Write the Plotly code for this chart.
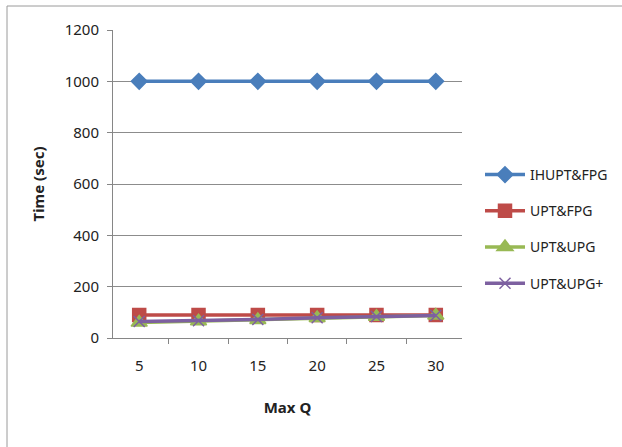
import plotly.graph_objects as go

max_q = ["5", "10", "15", "20", "25", "30"]
ihupt_fpg = [1000, 1000, 1000, 1000, 1000, 1000]
upt_fpg = [90, 90, 90, 90, 90, 90]
upt_upg = [60, 65, 70, 78, 83, 88]
upt_upg_plus = [64, 67, 72, 79, 84, 88]

series = [
    ("IHUPT&FPG", ihupt_fpg, "#4A7EBB", "diamond", 12),
    ("UPT&FPG", upt_fpg, "#BE4B48", "square", 13),
    ("UPT&UPG", upt_upg, "#98B954", "triangle-up", 14),
    ("UPT&UPG+", upt_upg_plus, "#7D60A0", "x-thin", 11),
]

fig = go.Figure()
for name, vals, color, sym, size in series:
    fig.add_trace(go.Scatter(
        x=max_q, y=vals, name=name, legendgroup=name, mode="lines+markers",
        line=dict(color=color, width=3.5),
        marker=dict(symbol=sym, size=size, color=color,
                    line=dict(color=color, width=1.5)),
    ))

font = "Noto Sans"
W, H = 622, 447
L, R, T, B = 113, 160, 30, 109
pw, ph = W - L - R, H - T - B

def px_x(p):
    return (p - L) / pw

def px_y(p):
    return (H - B - p) / ph

fig.update_layout(
    width=W, height=H,
    margin=dict(l=L, r=R, t=T, b=B, autoexpand=False),
    paper_bgcolor="white", plot_bgcolor="white",
    font=dict(family=font, size=15, color="#222"),
    showlegend=True,
    legend=dict(xref="container", yref="container",
                x=480 / W, y=1 - 159 / H, xanchor="left", yanchor="top",
                font=dict(size=14, color="#222"), tracegroupgap=15,
                itemwidth=40, bgcolor="rgba(0,0,0,0)"),
    xaxis=dict(
        type="category", tickson="boundaries", ticks="outside", ticklen=5,
        tickcolor="#868686", showline=True, linecolor="#868686", linewidth=1,
        showgrid=False, tickfont=dict(size=15, family=font),
        ticklabelstandoff=14,
        title=dict(text="<b>Max Q</b>", font=dict(size=15, family=font), standoff=28),
    ),
    yaxis=dict(
        range=[0, 1200], dtick=200, ticks="outside", ticklen=5,
        tickcolor="#868686", showline=True, linecolor="#868686", linewidth=1,
        showgrid=True, gridcolor="#8C8C8C", gridwidth=1, zeroline=False,
        tickfont=dict(size=15, family=font), ticklabelstandoff=5,
        title=dict(text="<b>Time (sec)</b>", font=dict(size=15, family=font), standoff=16),
    ),
    shapes=[
        dict(type="line", xref="paper", yref="paper",
             x0=px_x(7), x1=px_x(7), y0=px_y(6), y1=px_y(460),
             line=dict(color="#9A9A9A", width=1)),
        dict(type="line", xref="paper", yref="paper",
             x0=px_x(7), x1=px_x(630), y0=px_y(6), y1=px_y(6),
             line=dict(color="#9A9A9A", width=1)),
    ],
)

fig.write_html("out.html")
